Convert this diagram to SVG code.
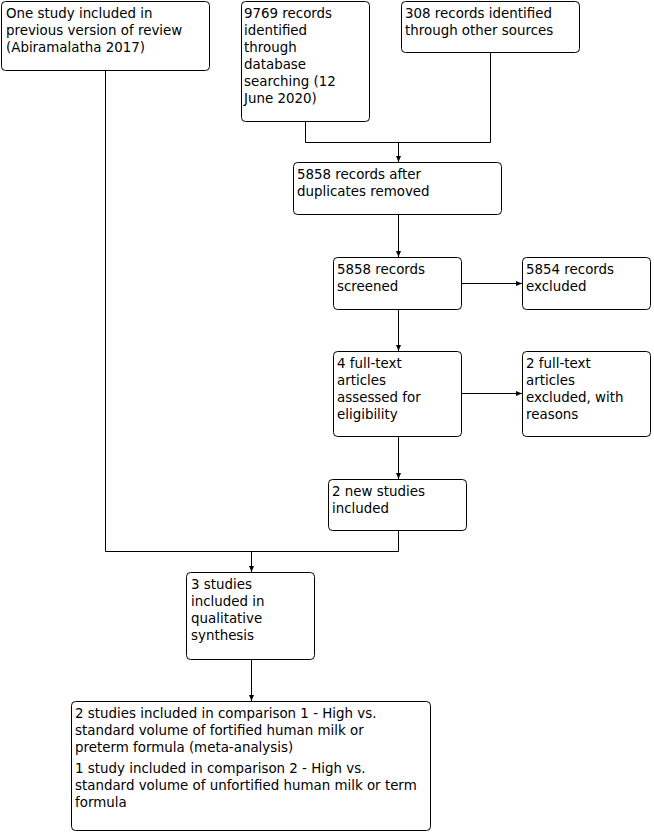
<svg xmlns="http://www.w3.org/2000/svg" width="654" height="832" viewBox="0 0 654 832">
<style>
.box{fill:#fff;stroke:#000;stroke-width:1}
.t{font-family:"DejaVu Sans",Verdana,sans-serif;font-size:13.4px;fill:#000}
.c{fill:none;stroke:#000;stroke-width:1}
</style>
<defs>
<marker id="ah" viewBox="0 0 6 6" refX="6" refY="3" markerWidth="6" markerHeight="6" markerUnits="userSpaceOnUse" orient="auto">
<path d="M0,0.5 L6,3 L0,5.5 Z" fill="#000"/>
</marker>
</defs>
<rect width="654" height="832" fill="#fff"/>
<g id="connectors">
<polyline class="c" points="105.5,70 105.5,551.5 398.5,551.5 398.5,530"/>
<line class="c" x1="251.5" y1="551.5" x2="251.5" y2="572" marker-end="url(#ah)"/>
<polyline class="c" points="305.5,121 305.5,142.5 490.5,142.5 490.5,52"/>
<line class="c" x1="398.5" y1="142.5" x2="398.5" y2="162" marker-end="url(#ah)"/>
<line class="c" x1="398.5" y1="214" x2="398.5" y2="257" marker-end="url(#ah)"/>
<line class="c" x1="461" y1="283.5" x2="522" y2="283.5" marker-end="url(#ah)"/>
<line class="c" x1="398.5" y1="309" x2="398.5" y2="351" marker-end="url(#ah)"/>
<line class="c" x1="461" y1="393.5" x2="522" y2="393.5" marker-end="url(#ah)"/>
<line class="c" x1="398.5" y1="436" x2="398.5" y2="479" marker-end="url(#ah)"/>
<line class="c" x1="251.5" y1="659" x2="251.5" y2="701" marker-end="url(#ah)"/>
</g>
<g id="n1">
<rect class="box" x="1.5" y="1.5" width="208" height="69" rx="4"/>
<text class="t" x="6" y="18">One study included in</text>
<text class="t" x="6" y="35">previous version of review</text>
<text class="t" x="6" y="52">(Abiramalatha 2017)</text>
</g>
<g id="n2">
<rect class="box" x="241.5" y="1.5" width="128" height="120" rx="4"/>
<text class="t" x="244" y="18">9769 records</text>
<text class="t" x="244" y="35">identified</text>
<text class="t" x="244" y="52">through</text>
<text class="t" x="244" y="69">database</text>
<text class="t" x="244" y="86">searching (12</text>
<text class="t" x="244" y="103">June 2020)</text>
</g>
<g id="n3">
<rect class="box" x="401.5" y="1.5" width="178" height="51" rx="4"/>
<text class="t" x="405" y="18">308 records identified</text>
<text class="t" x="405" y="35">through other sources</text>
</g>
<g id="n4">
<rect class="box" x="293.5" y="162.5" width="208" height="52" rx="4"/>
<text class="t" x="297" y="179">5858 records after</text>
<text class="t" x="297" y="196">duplicates removed</text>
</g>
<g id="n5">
<rect class="box" x="333.5" y="257.5" width="128" height="52" rx="4"/>
<text class="t" x="337" y="274">5858 records</text>
<text class="t" x="337" y="291">screened</text>
</g>
<g id="n6">
<rect class="box" x="522.5" y="257.5" width="128" height="52" rx="4"/>
<text class="t" x="526" y="274">5854 records</text>
<text class="t" x="526" y="291">excluded</text>
</g>
<g id="n7">
<rect class="box" x="333.5" y="351.5" width="128" height="85" rx="4"/>
<text class="t" x="337" y="368">4 full-text</text>
<text class="t" x="337" y="385">articles</text>
<text class="t" x="337" y="402">assessed for</text>
<text class="t" x="337" y="419">eligibility</text>
</g>
<g id="n8">
<rect class="box" x="522.5" y="351.5" width="128" height="85" rx="4"/>
<text class="t" x="526" y="368">2 full-text</text>
<text class="t" x="526" y="385">articles</text>
<text class="t" x="526" y="402">excluded, with</text>
<text class="t" x="526" y="419">reasons</text>
</g>
<g id="n9">
<rect class="box" x="328.5" y="479.5" width="138" height="51" rx="4"/>
<text class="t" x="332" y="496">2 new studies</text>
<text class="t" x="332" y="513">included</text>
</g>
<g id="n10">
<rect class="box" x="186.5" y="572.5" width="128" height="87" rx="4"/>
<text class="t" x="191" y="589">3 studies</text>
<text class="t" x="191" y="606">included in</text>
<text class="t" x="191" y="623">qualitative</text>
<text class="t" x="191" y="640">synthesis</text>
</g>
<g id="n11">
<rect class="box" x="71.5" y="701.5" width="359" height="129" rx="4"/>
<text class="t" x="75" y="718">2 studies included in comparison 1 - High vs.</text>
<text class="t" x="75" y="735">standard volume of fortified human milk or</text>
<text class="t" x="75" y="752">preterm formula (meta-analysis)</text>
<text class="t" x="75" y="773">1 study included in comparison 2 - High vs.</text>
<text class="t" x="75" y="790">standard volume of unfortified human milk or term</text>
<text class="t" x="75" y="807">formula</text>
</g>
</svg>
